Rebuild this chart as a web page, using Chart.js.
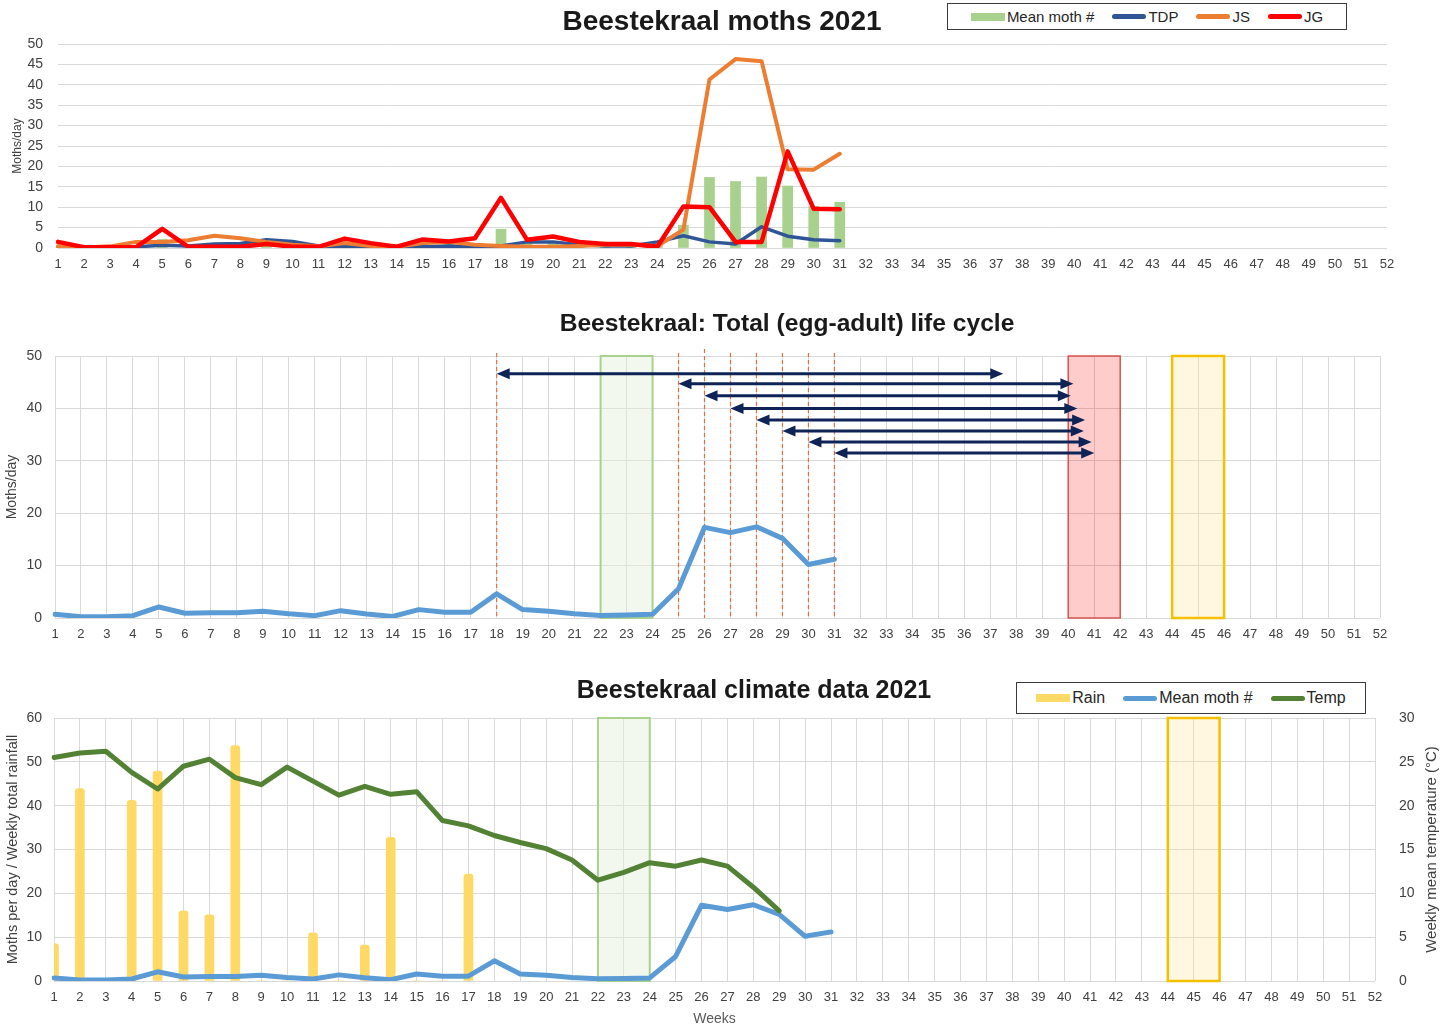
<!DOCTYPE html>
<html>
<head>
<meta charset="utf-8">
<script src="https://cdn.jsdelivr.net/npm/chart.js@4.4.0/dist/chart.umd.min.js"></script>
<style>
  body { margin: 0; background: #fff; font-family: 'Liberation Sans', Arial, sans-serif; }
  #page { position: relative; width: 1449px; height: 1028px; overflow: hidden; background: #fff; }
  canvas { position: absolute; left: 0; }
  .title { position: absolute; font-weight: bold; color: #1a1a1a; white-space: nowrap; transform: translate(-50%, -50%); }
  .legend { position: absolute; box-sizing: border-box; border: 1.5px solid #3a3a3a; background: #fff;
            display: flex; align-items: center; justify-content: center; color: #262626; white-space: nowrap; }
  .item { display: flex; align-items: center; margin: 0 9px; }
  .sw { display: inline-block; width: 34px; height: 5px; border-radius: 3px; margin-right: 2px; }
  .sw.box { border-radius: 0; height: 8px; }
</style>
</head>
<body>
<div id="page">
  <canvas id="c1" width="1449" height="285" style="top:0"></canvas>
  <canvas id="c2" width="1449" height="360" style="top:285px"></canvas>
  <canvas id="c3" width="1449" height="383" style="top:645px"></canvas>

  <div class="title" style="left:722px; top:21px; font-size:28px;">Beestekraal moths 2021</div>
  <div class="title" style="left:787px; top:323px; font-size:24.6px;">Beestekraal: Total (egg-adult) life cycle</div>
  <div class="title" style="left:754px; top:689px; font-size:25px;">Beestekraal climate data 2021</div>

  <div class="legend" style="left:947px; top:3px; width:400px; height:27px; font-size:15px;">
    <span class="item"><span class="sw box" style="background:#a9d18e"></span>Mean moth #</span>
    <span class="item"><span class="sw" style="background:#2f5597"></span>TDP</span>
    <span class="item"><span class="sw" style="background:#ed7d31"></span>JS</span>
    <span class="item"><span class="sw" style="background:#ff0000"></span>JG</span>
  </div>
  <div class="legend" style="left:1016px; top:682px; width:350px; height:32px; font-size:16px;">
    <span class="item"><span class="sw box" style="background:#ffd966"></span>Rain</span>
    <span class="item"><span class="sw" style="background:#5b9bd5"></span>Mean moth #</span>
    <span class="item"><span class="sw" style="background:#548235"></span>Temp</span>
  </div>
</div>

<script>
// weeks of the year
const WEEKS = ['1','2','3','4','5','6','7','8','9','10','11','12','13','14','15','16','17','18','19','20',
  '21','22','23','24','25','26','27','28','29','30','31','32','33','34','35','36','37','38','39','40',
  '41','42','43','44','45','46','47','48','49','50','51','52'];

// moths per day, weeks 1-31
const MEAN_MOTH = [0.7, 0.25, 0.25, 0.45, 2.1, 0.9, 1.0, 1.0, 1.3, 0.8, 0.45, 1.4, 0.75, 0.3, 1.6, 1.1, 1.1,
  4.6, 1.6, 1.3, 0.8, 0.5, 0.55, 0.7, 5.6, 17.3, 16.3, 17.4, 15.2, 10.2, 11.2];
const TDP = [0.3, 0.2, 0.2, 0.3, 0.65, 0.5, 1.0, 1.1, 2.0, 1.6, 0.5, 0.3, 0.2, 0.2, 0.3, 0.5, 0.3,
  0.5, 1.5, 1.5, 0.8, 0.5, 0.5, 1.5, 3.0, 1.5, 1.0, 5.2, 2.9, 2.0, 1.8];
const JS = [0.4, 0.1, 0.4, 1.5, 1.5, 1.9, 3.0, 2.4, 1.5, 0.8, 0.4, 1.2, 0.5, 0.3, 1.2, 1.5, 0.8,
  0.5, 0.3, 0.3, 0.5, 0.8, 0.8, 0.5, 4.5, 41.3, 46.3, 45.8, 19.3, 19.2, 23.1];
const JG = [1.5, 0.2, 0.2, 0.2, 4.7, 0.3, 0.3, 0.3, 1.0, 0.3, 0.3, 2.3, 1.2, 0.3, 2.1, 1.6, 2.4,
  12.3, 2.0, 2.8, 1.5, 1.0, 1.0, 0.3, 10.2, 10.0, 1.5, 1.5, 23.7, 9.6, 9.5];

// climate: weekly rain (mm) and weekly mean temperature (°C)
const RAIN = [8.5, 43.9, 0, 41.2, 47.9, 16, 15.1, 53.7, 0, 0, 11, 0, 8.2, 32.8, 0, 0, 24.4];
const TEMP = [25.5, 26.0, 26.2, 23.8, 21.9, 24.5, 25.3, 23.2, 22.4, 24.4, 22.8, 21.2, 22.2, 21.3, 21.6,
  18.3, 17.7, 16.6, 15.8, 15.1, 13.8, 11.5, 12.4, 13.5, 13.1, 13.8, 13.1, 10.7, 8.0];

// life-cycle markers (weeks)
const WINDOW_WEEKS = [22, 24];
const RED_WEEKS = [40, 42];
const YELLOW_WEEKS = [44, 46];
const DASH_WEEKS = [18, 25, 26, 27, 28, 29, 30, 31];
const ARROW_FROM = [18, 25, 26, 27, 28, 29, 30, 31];
const ARROW_TO = [37.5, 40.2, 40.1, 40.35, 40.65, 40.6, 40.9, 41.0];
const ARROW_LEVEL = [46.6, 44.7, 42.4, 40.0, 37.8, 35.7, 33.6, 31.5];

const FONT = 'Liberation Sans, Arial, sans-serif';
const GRID = '#d9d9d9';
const TICK = '#404040';
Chart.defaults.font.family = FONT;
Chart.defaults.color = TICK;

function line(label, data, color, width, order, axis) {
    return {
        type: 'line', label: label, data: data, borderColor: color, backgroundColor: color,
        borderWidth: width, pointRadius: 0, tension: 0, fill: false, order: order,
        borderCapStyle: 'round', borderJoinStyle: 'round', yAxisID: axis || 'y'
    };
}

function weekAxis(height, grid, title) {
    return {
        type: 'category', offset: false,
        grid: { display: grid, color: GRID, offset: false, drawTicks: false },
        border: { display: false },
        ticks: { autoSkip: false, maxRotation: 0, minRotation: 0, padding: 9, font: { size: 13 }, color: TICK },
        title: title ? { display: true, text: title, font: { size: 14 }, color: '#595959', padding: 0 } : { display: false },
        afterFit: s => { s.height = height; }
    };
}

function valueAxis(max, step, width, title, titleSize, titlePad, pad) {
    return {
        min: 0, max: max,
        grid: { color: GRID, drawTicks: false },
        border: { display: false },
        ticks: { stepSize: step, padding: pad, font: { size: 14 }, color: TICK },
        title: { display: !!title, text: title, font: { size: titleSize }, color: '#404040', padding: { top: titlePad, bottom: 0 } },
        afterFit: s => { s.width = width; }
    };
}

function boxAt(chart, weeks, fill, stroke, lw) {
    const { ctx, chartArea: a, scales: { x } } = chart;
    const l = x.getPixelForValue(weeks[0] - 1);
    const r = x.getPixelForValue(weeks[1] - 1);
    ctx.fillStyle = fill;
    ctx.fillRect(l, a.top, r - l, a.bottom - a.top);
    ctx.strokeStyle = stroke;
    ctx.lineWidth = lw;
    ctx.strokeRect(l, a.top, r - l, a.bottom - a.top);
}

function arrow(ctx, x1, x2, y) {
    const head = 13, half = 5.5;
    ctx.beginPath();
    ctx.moveTo(x1 + head - 2, y);
    ctx.lineTo(x2 - head + 2, y);
    ctx.stroke();
    ctx.beginPath();
    ctx.moveTo(x1, y); ctx.lineTo(x1 + head, y - half); ctx.lineTo(x1 + head, y + half);
    ctx.closePath(); ctx.fill();
    ctx.beginPath();
    ctx.moveTo(x2, y); ctx.lineTo(x2 - head, y - half); ctx.lineTo(x2 - head, y + half);
    ctx.closePath(); ctx.fill();
}

const lifeCyclePlugin = {
    id: 'lifeCycle',
    beforeDatasetsDraw(chart) {
        const { ctx, chartArea: a, scales: { x } } = chart;
        ctx.save();
        boxAt(chart, WINDOW_WEEKS, 'rgba(226,239,218,0.45)', '#a9d18e', 2);
        boxAt(chart, RED_WEEKS, 'rgba(255,0,0,0.2)', '#d9534f', 1.5);
        boxAt(chart, YELLOW_WEEKS, 'rgba(255,230,153,0.3)', '#f5c000', 2.5);
        ctx.strokeStyle = '#e2703e';
        ctx.lineWidth = 1.2;
        ctx.setLineDash([4, 3]);
        DASH_WEEKS.forEach(w => {
            const px = x.getPixelForValue(w - 1);
            ctx.beginPath();
            ctx.moveTo(px, a.top - (w === 26 ? 7 : 3));
            ctx.lineTo(px, a.bottom);
            ctx.stroke();
        });
        ctx.restore();
    },
    afterDatasetsDraw(chart) {
        const { ctx, scales: { x, y } } = chart;
        ctx.save();
        ctx.strokeStyle = '#0e2356';
        ctx.fillStyle = '#0e2356';
        ctx.lineWidth = 3;
        ARROW_FROM.forEach((w, i) => {
            arrow(ctx, x.getPixelForValue(w - 1), x.getPixelForValue(ARROW_TO[i] - 1), y.getPixelForValue(ARROW_LEVEL[i]));
        });
        ctx.restore();
    }
};

const climatePlugin = {
    id: 'climateBoxes',
    beforeDatasetsDraw(chart) {
        chart.ctx.save();
        boxAt(chart, WINDOW_WEEKS, 'rgba(226,239,218,0.45)', '#a9d18e', 2);
        boxAt(chart, YELLOW_WEEKS, 'rgba(255,230,153,0.3)', '#f5c000', 2.5);
        chart.ctx.restore();
    },
    // right-hand title reads bottom-to-top like the left one
    afterDraw(chart) {
        const { ctx, chartArea: a, scales: { y1 } } = chart;
        ctx.save();
        ctx.translate(y1.right - 17, (a.top + a.bottom) / 2);
        ctx.rotate(-Math.PI / 2);
        ctx.font = '15px ' + FONT;
        ctx.fillStyle = '#404040';
        ctx.textAlign = 'center';
        ctx.textBaseline = 'middle';
        ctx.fillText('Weekly mean temperature (°C)', 0, 0);
        ctx.restore();
    }
};

const BASE = {
    responsive: false,
    animation: false,
    plugins: { legend: { display: false }, tooltip: { enabled: false } }
};

// top: moths per trap
new Chart(document.getElementById('c1'), {
    type: 'bar',
    data: {
        labels: WEEKS,
        datasets: [
            line('JG', JG, '#ff0000', 4.5, 1),
            line('JS', JS, '#ed7d31', 4, 2),
            line('TDP', TDP, '#2f5597', 3.5, 3),
            { type: 'bar', label: 'Mean moth #', data: MEAN_MOTH, backgroundColor: '#a9d18e', barThickness: 10, order: 4 }
        ]
    },
    options: Object.assign({}, BASE, {
        layout: { padding: { top: 44, right: 62, bottom: 0, left: 0 } },
        scales: {
            x: weekAxis(37, false),
            y: valueAxis(50, 5, 58, 'Moths/day', 12, 10, 15)
        }
    })
});

// middle: life cycle
new Chart(document.getElementById('c2'), {
    type: 'line',
    data: {
        labels: WEEKS,
        datasets: [line('Mean moth #', MEAN_MOTH, '#5b9bd5', 5, 1)]
    },
    options: Object.assign({}, BASE, {
        layout: { padding: { top: 71, right: 69, bottom: 0, left: 0 } },
        scales: {
            x: weekAxis(27, true),
            y: valueAxis(50, 10, 55, 'Moths/day', 14, 4, 13)
        }
    }),
    plugins: [lifeCyclePlugin]
});

// bottom: climate
const y1 = valueAxis(30, 5, 74, '', 15, 8, 24);
y1.position = 'right';
y1.grid = { drawOnChartArea: false, drawTicks: false };
new Chart(document.getElementById('c3'), {
    type: 'bar',
    data: {
        labels: WEEKS,
        datasets: [
            line('Temp', TEMP, '#548235', 5, 1, 'y1'),
            line('Mean moth #', MEAN_MOTH, '#5b9bd5', 5, 2),
            { type: 'bar', label: 'Rain', data: RAIN, backgroundColor: '#ffd966', barThickness: 9, borderRadius: 3, order: 3 }
        ]
    },
    options: Object.assign({}, BASE, {
        layout: { padding: { top: 73, right: 0, bottom: 0, left: 0 } },
        scales: {
            x: weekAxis(47, true, 'Weeks'),
            y: valueAxis(60, 10, 54, 'Moths per day / Weekly total rainfall', 14.5, 4, 12),
            y1: y1
        }
    }),
    plugins: [climatePlugin]
});
</script>
</body>
</html>
